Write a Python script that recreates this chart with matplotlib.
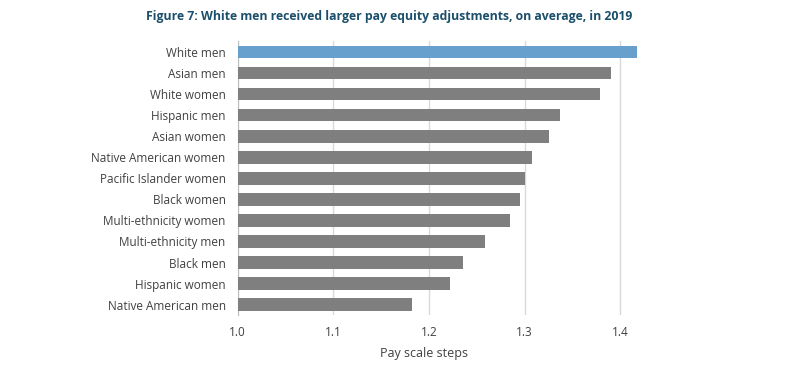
import matplotlib
matplotlib.use("Agg")
import matplotlib.pyplot as plt

categories = ["White men", "Asian men", "White women", "Hispanic men", "Asian women",
              "Native American women", "Pacific Islander women", "Black women",
              "Multi-ethnicity women", "Multi-ethnicity men", "Black men",
              "Hispanic women", "Native American men"]
values = [1.417, 1.390, 1.379, 1.337, 1.325, 1.308, 1.300, 1.2955, 1.285, 1.259,
          1.236, 1.222, 1.182]
xticks = [1.0, 1.1, 1.2, 1.3, 1.4]

plt.rcParams['font.family'] = ['Open Sans', 'DejaVu Sans']

fig = plt.figure(figsize=(8, 3.77), dpi=100)
ax = fig.add_axes([0.2969, 0.164, 0.7993 - 0.2969, 0.726])

colors = ["#67a0cd"] + ["#7f7f7f"] * (len(categories) - 1)
y = list(range(len(categories)))
base = 1.0
ax.barh(y, [v - base for v in values], left=base, height=0.6, color=colors, zorder=3)
ax.set_ylim(len(categories) - 0.5, -0.5)
ax.set_xlim(1.0, 1.42)
ax.set_xticks(xticks)
ax.set_xticklabels([f"{t:.1f}" for t in xticks])
ax.set_yticks(y)
ax.set_yticklabels(categories)
ax.tick_params(axis='both', length=0, labelsize=8.5, colors="#404040")
ax.tick_params(axis='y', pad=8.5)
ax.tick_params(axis='x', pad=8)
ax.grid(axis='x', color="#d9d9d9", linewidth=1, zorder=0)
for s in ["top", "right", "bottom"]:
    ax.spines[s].set_visible(False)
ax.spines["left"].set_color("#bfbfbf")
ax.set_xlabel("Pay scale steps", fontsize=9, color="#404040")
ax.xaxis.set_label_coords(0.464, -0.115)

fig.text(0.486, 0.955, "Figure 7: White men received larger pay equity adjustments, on average, in 2019",
         ha="center", va="center", fontsize=8.8, fontweight="bold", color="#1b4f6b")

fig.savefig("out.png", dpi=100)
